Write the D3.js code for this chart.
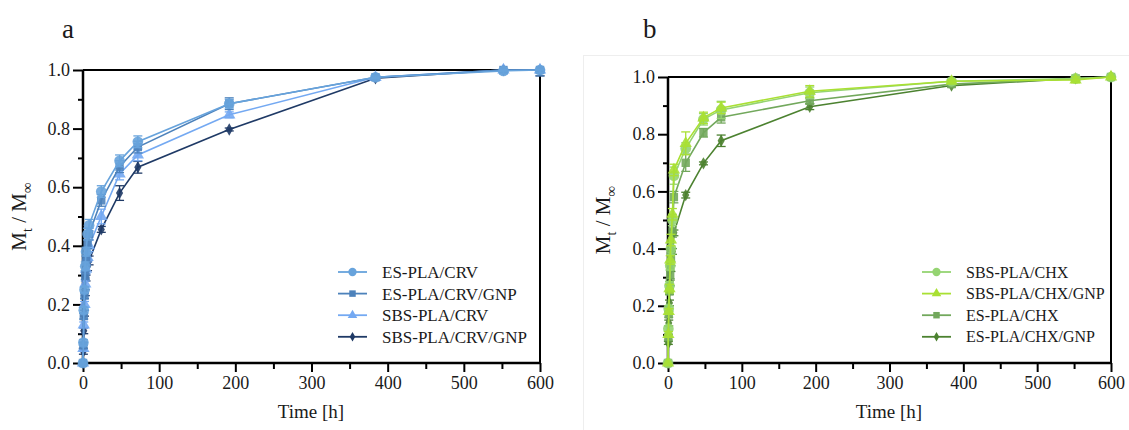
<!DOCTYPE html>
<html>
<head>
<meta charset="utf-8">
<script src="https://cdn.jsdelivr.net/npm/d3@7/dist/d3.min.js"></script>
<style>
  html, body { margin: 0; padding: 0; background: #fff; }
  svg { display: block; font-family: "Liberation Serif", "Times New Roman", Times, "DejaVu Serif", serif; }
  svg text { font-family: "Liberation Serif", "Times New Roman", Times, "DejaVu Serif", serif !important; fill: #1a1a1a; }
</style>
</head>
<body>
<svg id="chart" width="1129" height="430"></svg>
<script>
// Sampling times (hours)
const times = [0, 0.5, 1, 2, 3, 4, 6, 8, 24, 48, 72, 192, 384, 552, 600];

// Panel a: CRV release
const seriesNamesA = ["ES-PLA/CRV", "ES-PLA/CRV/GNP", "SBS-PLA/CRV", "SBS-PLA/CRV/GNP"];
const esCrv       = [0, 0.07, 0.18, 0.25, 0.33, 0.38, 0.44, 0.47, 0.585, 0.69, 0.755, 0.885, 0.975, 0.997, 1.0];
const esCrvGnp    = [0, 0.06, 0.16, 0.23, 0.30, 0.35, 0.41, 0.44, 0.555, 0.67, 0.737, 0.885, 0.975, 1.0, 1.0];
const sbsCrv      = [0, 0.05, 0.13, 0.20, 0.27, 0.32, 0.36, 0.40, 0.50, 0.645, 0.71, 0.847, 0.975, 1.0, 1.0];
const sbsCrvGnp   = [0, 0.04, 0.11, 0.17, 0.24, 0.29, 0.33, 0.35, 0.456, 0.58, 0.668, 0.797, 0.972, 1.0, 1.0];
const esCrvErr     = [0, 0.01, 0.01, 0.01, 0.015, 0.015, 0.02, 0.02, 0.02, 0.02, 0.02, 0.015, 0.005, 0.01, 0.01];
const esCrvGnpErr  = [0, 0.01, 0.01, 0.01, 0.015, 0.015, 0.02, 0.02, 0.02, 0.02, 0.02, 0.02, 0.005, 0.01, 0.02];
const sbsCrvErr    = [0, 0.01, 0.01, 0.01, 0.01, 0.015, 0.015, 0.02, 0.025, 0.02, 0.02, 0.01, 0.005, 0.01, 0.01];
const sbsCrvGnpErr = [0, 0.01, 0.01, 0.01, 0.01, 0.01, 0.015, 0.015, 0.01, 0.025, 0.02, 0.005, 0.005, 0.005, 0.02];

// Panel b: CHX release
const seriesNamesB = ["SBS-PLA/CHX", "SBS-PLA/CHX/GNP", "ES-PLA/CHX", "ES-PLA/CHX/GNP"];
const sbsChx      = [0, 0.12, 0.19, 0.27, 0.34, 0.40, 0.50, 0.655, 0.75, 0.852, 0.885, 0.945, 0.985, 0.995, 1.0];
const sbsChxGnp   = [0, 0.10, 0.18, 0.26, 0.36, 0.43, 0.52, 0.675, 0.768, 0.857, 0.892, 0.95, 0.985, 0.99, 1.0];
const esChx       = [0, 0.09, 0.17, 0.25, 0.31, 0.37, 0.46, 0.58, 0.70, 0.805, 0.859, 0.917, 0.975, 0.995, 1.0];
const esChxGnp    = [0, 0.07, 0.14, 0.21, 0.28, 0.33, 0.39, 0.455, 0.587, 0.698, 0.777, 0.896, 0.97, 0.995, 1.0];
const sbsChxErr    = [0, 0.01, 0.01, 0.015, 0.015, 0.02, 0.02, 0.03, 0.02, 0.02, 0.03, 0.02, 0.005, 0.005, 0.005];
const sbsChxGnpErr = [0, 0.01, 0.01, 0.015, 0.015, 0.02, 0.02, 0.02, 0.04, 0.02, 0.02, 0.02, 0.005, 0.01, 0.005];
const esChxErr     = [0, 0.01, 0.01, 0.01, 0.015, 0.015, 0.02, 0.02, 0.03, 0.015, 0.02, 0.01, 0.005, 0.005, 0.005];
const esChxGnpErr  = [0, 0.005, 0.01, 0.01, 0.01, 0.01, 0.01, 0.01, 0.01, 0.005, 0.02, 0.01, 0.005, 0.005, 0.005];

// Axis ticks
const xMajorTicks = [0, 100, 200, 300, 400, 500, 600];
const xMinorTicks = [50, 150, 250, 350, 450, 550];
const yMajorTicks = [0, 0.2, 0.4, 0.6, 0.8, 1.0];
const yMinorTicks = [0.1, 0.3, 0.5, 0.7, 0.9];

const serif = "'Liberation Serif', 'Times New Roman', Times, 'DejaVu Serif', serif";
const svg = d3.select("#chart");

const panels = [
  {
    letter: "a", letterX: 62, left: 83, right: 540, top: 70, bottom: 363,
    yTitleX: 26, xTitleX: 311,
    legendX: 338, legendY: 272, legendStep: 21.6, legendFont: 17,
    names: seriesNamesA,
    values: [esCrv, esCrvGnp, sbsCrv, sbsCrvGnp],
    errors: [esCrvErr, esCrvGnpErr, sbsCrvErr, sbsCrvGnpErr],
    colors: ["#67a3dc", "#4d82bb", "#74a9f2", "#1f3a66"],
    symbols: [d3.symbolCircle, d3.symbolSquare, d3.symbolTriangle, d3.symbolDiamond],
    sizes: [90, 70, 66, 44],
    drawOrder: [3, 2, 1, 0]
  },
  {
    letter: "b", letterX: 643, left: 668, right: 1111, top: 77, bottom: 363,
    yTitleX: 610, xTitleX: 889,
    legendX: 922, legendY: 272, legendStep: 21.6, legendFont: 16,
    names: seriesNamesB,
    values: [sbsChx, sbsChxGnp, esChx, esChxGnp],
    errors: [sbsChxErr, sbsChxGnpErr, esChxErr, esChxGnpErr],
    colors: ["#95d472", "#a9e033", "#72a85c", "#4c8230"],
    symbols: [d3.symbolCircle, d3.symbolTriangle, d3.symbolSquare, d3.symbolDiamond],
    sizes: [90, 66, 70, 44],
    drawOrder: [3, 2, 0, 1],
    frame: true
  }
];

panels.forEach(p => {
  const g = svg.append("g");

  if (p.frame) {
    g.append("rect")
      .attr("x", 583.5).attr("y", 55.5).attr("width", 560).attr("height", 400)
      .attr("fill", "none").attr("stroke", "#eeeeee").attr("stroke-width", 1);
  }

  const x = d3.scaleLinear().domain([0, 600]).range([p.left, p.right]);
  const y = d3.scaleLinear().domain([0, 1]).range([p.bottom, p.top]);

  // Panel letter
  g.append("text").attr("x", p.letterX).attr("y", 38)
    .attr("font-size", 27).text(p.letter);

  // Frame (top and right)
  g.append("path")
    .attr("d", `M${p.left},${p.top}H${p.right}V${p.bottom}`)
    .attr("fill", "none").attr("stroke", "#000").attr("stroke-width", 2);

  // X axis with major and minor ticks
  const xAxis = g.append("g").attr("transform", `translate(0,${p.bottom})`);
  xAxis.call(d3.axisBottom(x).tickValues(xMinorTicks).tickSize(6).tickFormat(""));
  xAxis.call(g2 => g2.select(".domain").remove());
  const xAxisMaj = g.append("g").attr("transform", `translate(0,${p.bottom})`)
    .call(d3.axisBottom(x).tickValues(xMajorTicks).tickSize(9).tickPadding(4).tickFormat(d3.format("d")));
  xAxisMaj.select(".domain").attr("stroke-width", 2.5).attr("d", `M${p.left},0H${p.right}`);

  // Y axis with major and minor ticks
  const yAxis = g.append("g").attr("transform", `translate(${p.left},0)`);
  yAxis.call(d3.axisLeft(y).tickValues(yMinorTicks).tickSize(5).tickFormat(""));
  yAxis.call(g2 => g2.select(".domain").remove());
  const yAxisMaj = g.append("g").attr("transform", `translate(${p.left},0)`)
    .call(d3.axisLeft(y).tickValues(yMajorTicks).tickSize(10).tickPadding(3).tickFormat(d3.format(".1f")));
  yAxisMaj.select(".domain").attr("stroke-width", 2.5).attr("d", `M0,${p.bottom}V${p.top}`);

  g.selectAll("g").attr("font-family", serif);
  g.selectAll(".tick line").attr("stroke", "#000").attr("stroke-width", 2);
  g.selectAll(".tick text")
    .style("font-family", serif)
    .attr("font-size", 18).attr("fill", "#1a1a1a");

  // Axis titles
  g.append("text")
    .attr("x", p.xTitleX).attr("y", 418)
    .attr("text-anchor", "middle").attr("font-size", 19)
    .text("Time [h]");

  const yt = g.append("text")
    .attr("transform", `translate(${p.yTitleX},${(p.top + p.bottom) / 2}) rotate(-90)`)
    .attr("text-anchor", "middle").attr("font-size", 21);
  yt.append("tspan").text("M");
  yt.append("tspan").attr("font-size", 14).attr("dy", 6).text("t");
  yt.append("tspan").attr("dy", -6).text(" / M");
  yt.append("tspan").attr("font-size", 15).attr("dy", 6).text("∞");

  const line = d3.line().x((d, i) => x(times[i])).y(d => y(d));

  // Series: lines, error bars, markers
  p.drawOrder.forEach(si => {
    const vals = p.values[si], errs = p.errors[si], col = p.colors[si];
    const sg = g.append("g");
    sg.append("path").datum(vals)
      .attr("d", line).attr("fill", "none")
      .attr("stroke", col).attr("stroke-width", 1.6);

    const pts = vals.map((v, i) => ({ t: times[i], v, e: errs[i] }));
    const eb = sg.selectAll(".eb").data(pts.filter(d => d.e > 0)).join("g");
    eb.append("line")
      .attr("x1", d => x(d.t)).attr("x2", d => x(d.t))
      .attr("y1", d => y(Math.min(1.0, d.v + d.e))).attr("y2", d => y(d.v - d.e))
      .attr("stroke", col).attr("stroke-width", 1.3);
    [1, -1].forEach(sgn => {
      eb.append("line")
        .attr("x1", d => x(d.t) - 4.5).attr("x2", d => x(d.t) + 4.5)
        .attr("y1", d => y(sgn > 0 ? Math.min(1.0, d.v + d.e) : d.v - d.e))
        .attr("y2", d => y(sgn > 0 ? Math.min(1.0, d.v + d.e) : d.v - d.e))
        .attr("stroke", col).attr("stroke-width", 1.3);
    });

    sg.selectAll(".pt").data(pts).join("path")
      .attr("transform", d => `translate(${x(d.t)},${y(d.v)})`)
      .attr("d", d3.symbol().type(p.symbols[si]).size(p.sizes[si]))
      .attr("fill", col).attr("fill-opacity", 0.9);
  });

  // Legend
  const lg = g.append("g");
  p.names.forEach((name, i) => {
    const ly = p.legendY + i * p.legendStep;
    lg.append("line")
      .attr("x1", p.legendX).attr("x2", p.legendX + 29)
      .attr("y1", ly).attr("y2", ly)
      .attr("stroke", p.colors[i]).attr("stroke-width", 1.8);
    lg.append("path")
      .attr("transform", `translate(${p.legendX + 14.5},${ly})`)
      .attr("d", d3.symbol().type(p.symbols[i]).size(p.sizes[i] * 0.6))
      .attr("fill", p.colors[i]);
    lg.append("text")
      .attr("x", p.legendX + 44).attr("y", ly)
      .attr("dy", "0.35em").attr("font-size", p.legendFont)
      .text(name);
  });
});
</script>
</body>
</html>
